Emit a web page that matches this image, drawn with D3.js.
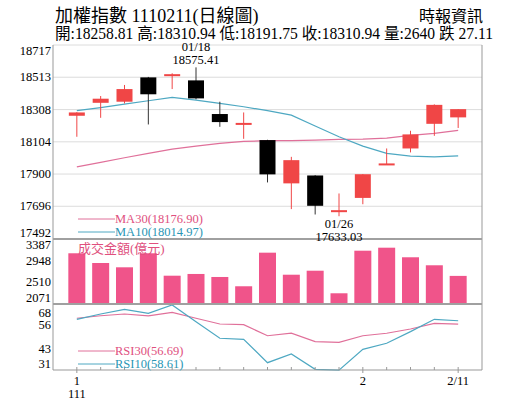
<!DOCTYPE html>
<html><head><meta charset="utf-8">
<script src="https://cdn.jsdelivr.net/npm/d3@7/dist/d3.min.js"></script>
<style>
body{margin:0;background:#fff;}
text{font-family:"Liberation Serif","Times New Roman","Noto Sans CJK TC",serif;}
</style></head>
<body><svg id="c" width="515" height="413"></svg>
<script>
const dates = ["01/11","01/12","01/13","01/14","01/17","01/18","01/19","01/20","01/21","01/24","01/25","01/26","02/07","02/08","02/09","02/10","02/11"];
const openV  = [18269,18351,18358,18512,18521,18493,18280,18215,18115,17841,17891,17661,17749,17959,18062,18218,18258.81];
const highV  = [18292,18394,18464,18515,18538,18575.41,18358,18290,18117,18009,17893,17777,17900,18062,18174,18341,18310.94];
const lowV   = [18136,18256,18347,18214,18438,18373,18199,18123,17847,17678,17644,17633.03,17709,17958,18037,18142,18191.75];
const closeV = [18290,18377,18438,18405,18531,18379,18229,18220,17898,17988,17699,17669,17899,17963,18151,18338.05,18310.94];
const volume = [3098,2901,2814,3098,2644,2679,2618,2430,3110,2664,2745,2288,3150,3211,3017,2855,2640];
const ma10 = [18301,18321,18343,18364,18386,18368,18348,18326,18301,18273,18204,18136,18077,18031,18014,18009,18014.97];
const ma30 = [17946,17974,18003,18031,18058,18077,18094,18107,18111,18111,18115,18119,18121,18128,18145,18157,18176.90];
const rsi10 = [59.4,62.4,65.0,62.8,67.5,58.1,48.8,48.2,35.1,40.0,31.4,30.9,42.6,46.0,52.5,59.4,58.61];
const rsi30 = [60.0,61.4,62.4,61.4,63.3,60.0,56.8,56.4,50.2,51.7,46.9,46.5,50.2,51.6,54.0,57.1,56.69];
const priceTicks = [18717,18513,18308,18104,17900,17696,17492];
const volTicks = [3387,2948,2510,2071];
const rsiTicks = [68,56,43,31];
const xLabels = [{i:0,t:"1",t2:"111"},{i:12,t:"2"},{i:16,t:"2/11"}];

const RED="#f04646", BLACK="#000", PINK="#f0548a", MAP="#e0709a", MAT="#4ea8c2";
const svg=d3.select("#c");
const L=53, R=482;
const x=d3.scaleLinear().domain([-1,17]).range([L,R]);
const yP=d3.scaleLinear().domain([17492,18717]).range([238.5,45]);
const yV=d3.scaleLinear().domain([2071,3387]).range([304,239]);
const yR=d3.scaleLinear().domain([31,68]).range([370,304]);
const idx=d3.range(dates.length);

// header
svg.append("text").attr("x",55).attr("y",21.5).attr("font-size",18).text("加權指數 1110211(日線圖)");
svg.append("text").attr("x",483).attr("y",22).attr("font-size",16).attr("text-anchor","end").text("時報資訊");
const n=closeV.length-1, chg=closeV[n]-closeV[n-1];
svg.append("text").attr("x",55).attr("y",38.5).attr("font-size",16).attr("textLength",438).attr("lengthAdjust","spacingAndGlyphs")
  .text(`開:${openV[n].toFixed(2)} 高:${highV[n].toFixed(2)} 低:${lowV[n].toFixed(2)} 收:${closeV[n].toFixed(2)} 量:${volume[n]} ${chg<0?"跌":"漲"} ${Math.abs(chg).toFixed(2)}`);

// grid main
svg.append("g").selectAll("line").data(priceTicks).join("line")
  .attr("x1",L).attr("x2",R).attr("y1",d=>yP(d)).attr("y2",d=>yP(d)).attr("stroke","#dcdcdc");

function axisLabels(ticks,scale,top,bot,pt,pb){
  svg.append("g").selectAll("text").data(ticks).join("text")
    .attr("x",51).attr("text-anchor","end").attr("font-size",12.5).attr("dominant-baseline","central")
    .attr("y",d=>Math.max(top+pt,Math.min(bot-pb,scale(d)))).text(d=>d);
}
axisLabels(priceTicks,yP,45,238.5,6,6);
axisLabels(volTicks,yV,239,304,6,6);
axisLabels(rsiTicks,yR,304,370,8.5,6);

// MA lines
const lineP=(arr)=>d3.line().x(i=>x(i)).y(i=>yP(arr[i]))(idx);
svg.append("path").attr("d",lineP(ma30)).attr("fill","none").attr("stroke",MAP).attr("stroke-width",1.2);
svg.append("path").attr("d",lineP(ma10)).attr("fill","none").attr("stroke",MAT).attr("stroke-width",1.2);

// candles
const cw=16;
const cg=svg.append("g");
idx.forEach(i=>{
  const up=closeV[i]>=openV[i]; const col=up?RED:BLACK;
  cg.append("line").attr("x1",x(i)).attr("x2",x(i)).attr("y1",yP(highV[i])).attr("y2",yP(lowV[i])).attr("stroke",up?RED:"#333").attr("stroke-width",1);
  const t=yP(Math.max(openV[i],closeV[i])), b=yP(Math.min(openV[i],closeV[i]));
  const h=Math.max(2,b-t);
  cg.append("rect").attr("x",x(i)-cw/2).attr("width",cw).attr("y",(t+b)/2-h/2).attr("height",h).attr("fill",col);
});

// hi/lo annotations
const hi=d3.maxIndex(highV), lo=d3.minIndex(lowV);
svg.append("text").attr("x",x(hi)).attr("y",yP(highV[hi])-16).attr("text-anchor","middle").attr("font-size",12.5).text(dates[hi]);
svg.append("text").attr("x",x(hi)).attr("y",yP(highV[hi])-3).attr("text-anchor","middle").attr("font-size",12.5).text(highV[hi].toFixed(2));
svg.append("text").attr("x",x(lo)).attr("y",yP(lowV[lo])+12).attr("text-anchor","middle").attr("font-size",12.5).text(dates[lo]);

// volume bars
svg.append("g").selectAll("rect").data(idx).join("rect")
  .attr("x",i=>x(i)-8.5).attr("width",17).attr("y",i=>yV(volume[i])).attr("height",i=>yV(2071)-yV(volume[i])).attr("fill",PINK);

// RSI lines
const lineR=(arr)=>d3.line().x(i=>x(i)).y(i=>yR(arr[i]))(idx);
svg.append("path").attr("d",lineR(rsi30)).attr("fill","none").attr("stroke",MAP).attr("stroke-width",1.2);
svg.append("path").attr("d",lineR(rsi10)).attr("fill","none").attr("stroke",MAT).attr("stroke-width",1.2);

// frames
svg.append("line").attr("x1",L).attr("x2",L).attr("y1",45).attr("y2",370).attr("stroke","#999");
svg.append("line").attr("x1",R).attr("x2",R).attr("y1",45).attr("y2",370).attr("stroke","#999");
[239,304].forEach(y=>svg.append("line").attr("x1",L).attr("x2",R).attr("y1",y).attr("y2",y).attr("stroke","#a0a0a0").attr("stroke-width",2));
svg.append("line").attr("x1",L).attr("x2",R).attr("y1",370).attr("y2",370).attr("stroke","#999");

// low label over separator
svg.append("text").attr("x",x(lo)).attr("y",yP(lowV[lo])+25).attr("text-anchor","middle").attr("font-size",12.5).text(lowV[lo].toFixed(2));

// x ticks
svg.append("g").selectAll("line").data(idx).join("line")
  .attr("x1",i=>x(i)).attr("x2",i=>x(i)).attr("y1",367).attr("y2",370).attr("stroke","#999");
xLabels.forEach(d=>{
  svg.append("line").attr("x1",x(d.i)).attr("x2",x(d.i)).attr("y1",370).attr("y2",373).attr("stroke","#999");
  svg.append("text").attr("x",x(d.i)).attr("y",385).attr("text-anchor","middle").attr("font-size",12.5).text(d.t);
  if(d.t2) svg.append("text").attr("x",x(d.i)).attr("y",398).attr("text-anchor","middle").attr("font-size",12.5).text(d.t2);
});

// legends
function legend(y,col,tcol,label){
  svg.append("line").attr("x1",78).attr("x2",115).attr("y1",y).attr("y2",y).attr("stroke",col).attr("stroke-width",1);
  svg.append("text").attr("x",115).attr("y",y).attr("dominant-baseline","central").attr("font-size",12.5).attr("fill",tcol).text(label);
}
legend(219,MAP,"#e0507e",`MA30(${ma30[n].toFixed(2)})`);
legend(232,MAT,"#2a96b4",`MA10(${ma10[n].toFixed(2)})`);
legend(351,MAP,"#e0507e",`RSI30(${rsi30[n].toFixed(2)})`);
legend(364,MAT,"#2a96b4",`RSI10(${rsi10[n].toFixed(2)})`);
svg.append("text").attr("x",78).attr("y",248).attr("dominant-baseline","central").attr("font-size",13).attr("fill","#e0507e").text("成交金額(億元)");
</script></body></html>
